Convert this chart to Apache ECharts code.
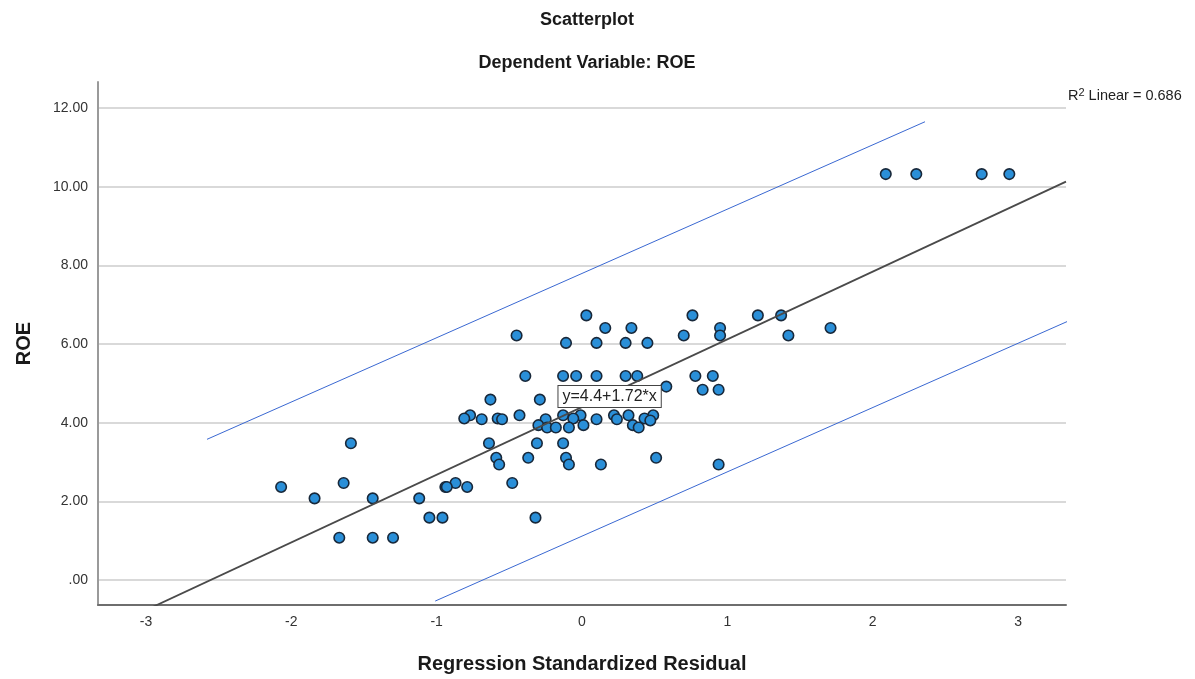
<!DOCTYPE html>
<html><head><meta charset="utf-8">
<script src="https://cdn.jsdelivr.net/npm/echarts@6/dist/echarts.min.js"></script>
<style>html,body{margin:0;padding:0;background:#fff}#c{width:1195px;height:679px}</style>
</head><body><div id="c"></div>
<script>
// Regression standardized residual (x) and ROE (y) for each case
const residual = [
  2.09, 2.30, 2.75, 2.94,
  0.03, 0.76, 1.21, 1.37,
  0.16, 0.34, 0.95, 1.71,
  -0.45, 0.70, 0.95, 1.42,
  -0.11, 0.10, 0.30, 0.45,
  -0.39, -0.13, -0.04, 0.10, 0.30, 0.38, 0.78, 0.90,
  0.58,
  0.83, 0.94,
  -0.63, -0.29,
  -0.77, -0.43, -0.13, -0.01, 0.22, 0.32, 0.49,
  -0.81, -0.58, -0.06, 0.43,
  -0.69, -0.55, -0.25, 0.10, 0.24,
  0.47,
  -0.30, 0.01, 0.35,
  -0.24, -0.18, -0.09, 0.39,
  -1.59, -0.64, -0.31, -0.13,
  -0.59, -0.37, -0.11, 0.51,
  -0.57, -0.09, 0.13, 0.94,
  -1.64, -0.87, -0.48,
  -2.07, -0.94, -0.93, -0.79,
  -1.84, -1.44, -1.12,
  -1.05, -0.96, -0.32,
  -1.67, -1.44, -1.30
];
const roe = [
  10.32, 10.32, 10.32, 10.32,
  6.73, 6.73, 6.73, 6.73,
  6.41, 6.41, 6.41, 6.41,
  6.22, 6.22, 6.22, 6.22,
  6.03, 6.03, 6.03, 6.03,
  5.19, 5.19, 5.19, 5.19, 5.19, 5.19, 5.19, 5.19,
  4.92,
  4.84, 4.84,
  4.59, 4.59,
  4.19, 4.19, 4.19, 4.19, 4.19, 4.19, 4.19,
  4.11, 4.11, 4.11, 4.11,
  4.09, 4.09, 4.09, 4.09, 4.09,
  4.06,
  3.94, 3.94, 3.94,
  3.88, 3.88, 3.88, 3.88,
  3.48, 3.48, 3.48, 3.48,
  3.11, 3.11, 3.11, 3.11,
  2.94, 2.94, 2.94, 2.94,
  2.47, 2.47, 2.47,
  2.37, 2.37, 2.37, 2.37,
  2.08, 2.08, 2.08,
  1.59, 1.59, 1.59,
  1.08, 1.08, 1.08
];
const xTicks = [-3, -2, -1, 0, 1, 2, 3];
const yTicks = [0, 2, 4, 6, 8, 10, 12];
const xRange = [-3.33, 3.33];
const yRange = [-0.63, 12.66];
// Linear fit y = 4.4 + 1.72*x, R^2 = 0.686
const fitIntercept = 4.4;
const fitSlope = 1.72;
const rSquared = 0.686;
// Hand-drawn parallel band lines (x, y endpoints)
const upperBandX = [-2.58, 2.36];
const upperBandY = [3.58, 11.65];
const lowerBandX = [-1.01, 3.93];
const lowerBandY = [-0.53, 7.54];
const equationLabelAt = [0.19, 4.67];

const FONT = 'Liberation Sans, Arial, Helvetica, sans-serif';
const points = residual.map((x, i) => [x, roe[i]]);
const fitLine = xRange.map(x => [x, fitIntercept + fitSlope * x]);
const upperBand = upperBandX.map((x, i) => [x, upperBandY[i]]);
const lowerBand = lowerBandX.map((x, i) => [x, lowerBandY[i]]);
const isTick = (arr, v) => arr.some(t => Math.abs(t - v) < 1e-6);

const chart = echarts.init(document.getElementById('c'), null, {renderer: 'canvas'});
const baseGraphic = [
  {type: 'text', x: 587, y: 20, style: {text: 'Scatterplot', font: 'bold 18px ' + FONT, fill: '#1a1a1a', align: 'center', verticalAlign: 'middle'}},
  {type: 'text', x: 587, y: 63, style: {text: 'Dependent Variable: ROE', font: 'bold 18px ' + FONT, fill: '#1a1a1a', align: 'center', verticalAlign: 'middle'}},
  {type: 'text', x: 1068, y: 96, style: {
    text: '{b|R}{s|2}{b| Linear = ' + rSquared.toFixed(3) + '}',
    verticalAlign: 'middle', align: 'left',
    rich: {
      b: {fontFamily: FONT, fontSize: 14.5, fill: '#222', color: '#222'},
      s: {fontFamily: FONT, fontSize: 11, fill: '#222', color: '#222', verticalAlign: 'top', padding: [0, 0, 7, 0]}
    }
  }}
];
chart.setOption({
  backgroundColor: '#ffffff',
  animation: false,
  grid: {left: 98, right: 129, top: 82, bottom: 73, containLabel: false},
  xAxis: {
    type: 'value', min: xRange[0], max: xRange[1], splitNumber: 7,
    name: 'Regression Standardized Residual', nameLocation: 'middle', nameGap: 49,
    nameTextStyle: {fontFamily: FONT, fontSize: 20, fontWeight: 'bold', color: '#1a1a1a'},
    axisLine: {show: true, onZero: false, lineStyle: {color: '#6e6e6e', width: 2}},
    axisTick: {show: false},
    splitLine: {show: false},
    axisLabel: {
      fontFamily: FONT, fontSize: 14, color: '#333', margin: 10,
      showMinLabel: false, showMaxLabel: false,
      formatter: v => isTick(xTicks, v) ? String(Math.round(v)) : ''
    }
  },
  yAxis: {
    type: 'value', min: yRange[0], max: yRange[1], splitNumber: 7,
    name: 'ROE', nameLocation: 'middle', nameGap: 64, nameRotate: 90,
    nameTextStyle: {fontFamily: FONT, fontSize: 20, fontWeight: 'bold', color: '#1a1a1a'},
    axisLine: {show: true, onZero: false, lineStyle: {color: '#9a9a9a', width: 2}},
    axisTick: {show: false},
    splitLine: {show: true, showMinLine: false, showMaxLine: false, lineStyle: {color: '#cccccc', width: 1.5}},
    axisLabel: {
      fontFamily: FONT, fontSize: 14, color: '#333', margin: 10,
      showMinLabel: false, showMaxLabel: false,
      formatter: v => {
        if (!isTick(yTicks, v)) return '';
        const r = Math.round(v);
        return r === 0 ? '.00' : r.toFixed(2);
      }
    }
  },
  graphic: baseGraphic,
  series: [
    {
      type: 'scatter', data: points, symbol: 'circle', symbolSize: 10.5, z: 3,
      itemStyle: {color: '#2a8fd8', borderColor: '#18283a', borderWidth: 1.6, opacity: 1}
    },
    {
      type: 'line', data: fitLine, showSymbol: false, symbol: 'none', clip: true, z: 4,
      lineStyle: {color: '#4a4a4a', width: 1.8}
    },
    {
      type: 'line', data: upperBand, showSymbol: false, symbol: 'none', clip: false, z: 4,
      lineStyle: {color: '#3a68d2', width: 1}
    },
    {
      type: 'line', data: lowerBand, showSymbol: false, symbol: 'none', clip: false, z: 4,
      lineStyle: {color: '#3a68d2', width: 1}
    }
  ]
});
// Equation label box anchored at a data coordinate, drawn above everything
const p = chart.convertToPixel({gridIndex: 0}, equationLabelAt);
chart.setOption({
  graphic: baseGraphic.concat([{
    type: 'text', x: p[0], y: p[1], z: 100,
    style: {
      text: 'y=' + fitIntercept + '+' + fitSlope + '*x',
      font: '16px ' + FONT, fill: '#222', align: 'center', verticalAlign: 'middle',
      backgroundColor: '#ffffff', borderColor: '#444444', borderWidth: 1,
      padding: [3, 4, 2, 4]
    }
  }])
});
</script>
</body></html>
